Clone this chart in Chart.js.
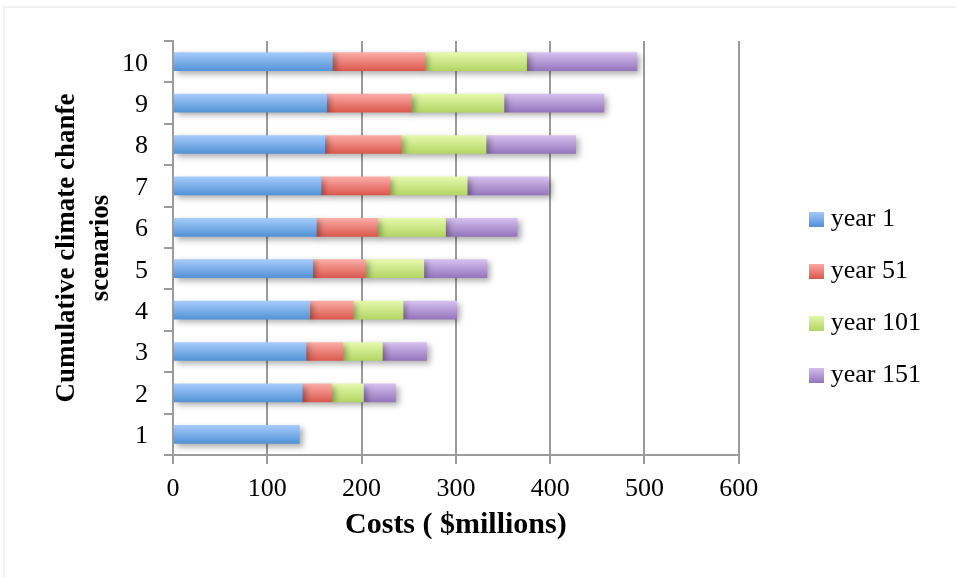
<!DOCTYPE html>
<html>
<head>
<meta charset="utf-8">
<script src="https://cdn.jsdelivr.net/npm/chart.js@4/dist/chart.umd.min.js"></script>
<style>
  html, body { margin: 0; padding: 0; background: #fff; }
  #frame { position: absolute; left: 3px; top: 6px; width: 960px; height: 580px;
           border-left: 2px solid #f1f1f1; border-top: 2px solid #f1f1f1; }
  #wrap { position: absolute; left: 0; top: 0; width: 956px; height: 577px; }
</style>
</head>
<body>
<div id="frame"></div>
<div id="wrap"><canvas id="c" width="956" height="577"></canvas></div>
<script>
// Cumulative climate change scenarios and their costs ($ millions)
const scenarios = ['1', '2', '3', '4', '5', '6', '7', '8', '9', '10'];
const seriesNames = ['year 1', 'year 51', 'year 101', 'year 151'];
const year1   = [134, 137, 141, 145, 148, 152, 157, 161, 163, 169];
const year51  = [null, 31, 39, 46, 56, 65, 73, 81, 90, 98];
const year101 = [null, 34, 42, 53, 62, 72, 82, 90, 98, 108];
const year151 = [null, 34, 47, 57, 67, 76, 86, 95, 106, 117];
const costTicks = [0, 100, 200, 300, 400, 500, 600];

// light-to-dark shading for each series
const shades = [
  ['#a6cbfb', '#5393d7'],
  ['#fbaca6', '#db594e'],
  ['#e5f9ad', '#b3d564'],
  ['#d5c0ef', '#9575bc']
];

const FONT = '"Liberation Serif", "Times New Roman", serif';
const BAR = 18;
const PAD_L = 48, PAD_B = 24;

function barFill(i) {
  return (ctx) => {
    const chart = ctx.chart;
    if (!chart.chartArea || ctx.dataIndex === undefined) return shades[i][1];
    const y = chart.scales.y.getPixelForValue(ctx.dataIndex);
    const g = chart.ctx.createLinearGradient(0, y - BAR / 2, 0, y + BAR / 2);
    g.addColorStop(0, shades[i][0]);
    g.addColorStop(1, shades[i][1]);
    return g;
  };
}

// small shaded squares used as legend markers
function swatch(i) {
  const c = document.createElement('canvas');
  c.width = 15; c.height = 15;
  const x = c.getContext('2d');
  const g = x.createLinearGradient(0, 0, 0, 15);
  g.addColorStop(0, shades[i][0]);
  g.addColorStop(1, shades[i][1]);
  x.fillStyle = g;
  x.fillRect(0, 0, 15, 15);
  return c;
}
const swatches = shades.map((_, i) => swatch(i));

const values = [year1, year51, year101, year151];

// soft drop shadow under the bars
const barShadow = {
  id: 'barShadow',
  beforeDatasetsDraw(chart) {
    const c = chart.ctx;
    c.save();
    c.shadowColor = 'rgba(0,0,0,0.33)';
    c.shadowBlur = 6;
    c.shadowOffsetX = 3;
    c.shadowOffsetY = 3;
  },
  afterDatasetsDraw(chart) {
    chart.ctx.restore();
  }
};

new Chart(document.getElementById('c'), {
  type: 'bar',
  data: {
    labels: scenarios,
    datasets: seriesNames.map((name, i) => ({
      label: name,
      data: values[i],
      backgroundColor: barFill(i),
      borderWidth: 0,
      barThickness: BAR
    }))
  },
  plugins: [barShadow],
  options: {
    indexAxis: 'y',
    responsive: false,
    animation: false,
    layout: { padding: { top: 41, bottom: PAD_B, left: PAD_L, right: 25 } },
    scales: {
      x: {
        stacked: true,
        min: 0,
        max: 600,
        afterBuildTicks(s) { s.ticks = costTicks.map(v => ({ value: v })); },
        afterFit(s) { s.height = 577 - PAD_B - 455; },
        grid: { color: '#9b9b9b', lineWidth: 2, tickLength: 9 },
        border: { color: '#9b9b9b', width: 2 },
        ticks: { color: '#000', padding: 10, font: { family: FONT, size: 26 } },
        title: {
          display: true,
          text: 'Costs ( $millions)',
          color: '#000',
          padding: { top: 0, bottom: 10 },
          font: { family: FONT, size: 30, weight: 'bold', lineHeight: 1.2 }
        }
      },
      y: {
        stacked: true,
        reverse: true,
        afterFit(s) { s.width = 173 - PAD_L; },
        grid: { offset: true, drawOnChartArea: false, color: '#9b9b9b', lineWidth: 2, tickLength: 9 },
        border: { color: '#9b9b9b', width: 2 },
        ticks: { color: '#000', padding: 16, labelOffset: 2, font: { family: FONT, size: 26 } },
        title: {
          display: true,
          text: ['Cumulative climate chanfe', 'scenarios'],
          color: '#000',
          padding: { top: 2, bottom: 0 },
          font: { family: FONT, size: 27, weight: 'bold', lineHeight: 34 / 27 }
        }
      },
      gap: {
        type: 'category',
        position: 'right',
        display: true,
        grid: { display: false },
        border: { display: false },
        ticks: { display: false },
        afterFit(s) { s.width = 50; }
      }
    },
    plugins: {
      tooltip: { enabled: false },
      legend: {
        position: 'right',
        align: 'center',
        labels: {
          usePointStyle: true,
          pointStyleWidth: 3,
          padding: 26,
          color: '#000',
          font: { family: FONT, size: 26 },
          generateLabels(chart) {
            const items = Chart.defaults.plugins.legend.labels.generateLabels(chart);
            items.forEach((it, i) => { it.pointStyle = swatches[i]; });
            return items;
          }
        }
      }
    }
  }
});
</script>
</body>
</html>
